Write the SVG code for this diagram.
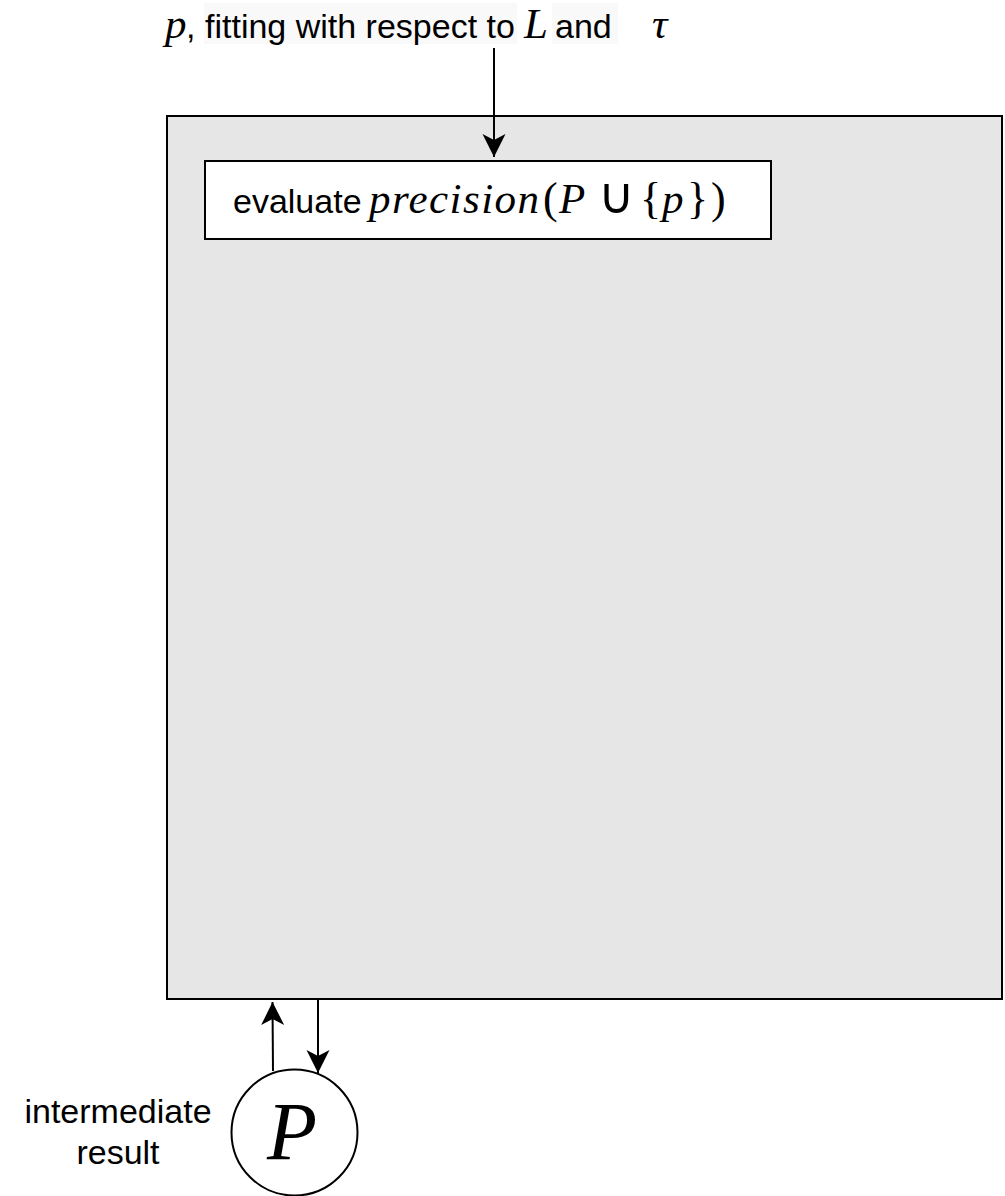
<svg xmlns="http://www.w3.org/2000/svg" width="1005" height="1196" viewBox="0 0 1005 1196">
  <style>
    .sans { font-family: "Liberation Sans", Arial, sans-serif; font-size: 34px; fill: #000; }
    .math { font-family: "Liberation Serif", "Times New Roman", serif; font-style: italic; font-size: 43px; fill: #000; }
    .up { font-family: "Liberation Serif", "Times New Roman", serif; font-style: normal; font-size: 44px; fill: #000; }
    .op { font-family: "DejaVu Sans", sans-serif; font-weight: 200; font-size: 50px; fill: #000; }
    .edge { fill: none; stroke: #000; stroke-width: 2; }
  </style>
  <defs>
    <marker id="arrow" markerUnits="userSpaceOnUse" markerWidth="26" markerHeight="26" viewBox="-24 -13 26 26" refX="0" refY="0" orient="auto">
      <path d="M0,0 L-23,-11.5 L-17,0 L-23,11.5 Z" fill="#000"/>
    </marker>
  </defs>

  <!-- outer process container -->
  <g id="container">
    <rect x="167" y="116" width="835" height="883" fill="#e6e6e6" stroke="#000" stroke-width="2"/>
  </g>

  <!-- evaluation step -->
  <g id="evaluate">
    <rect x="205" y="161" width="566" height="78" fill="#fff" stroke="#000" stroke-width="2"/>
    <text class="sans" x="233" y="213">evaluate</text>
    <text class="math" x="369" y="213" textLength="170" lengthAdjust="spacing">precision</text>
    <text class="up" x="543" y="213">(</text>
    <text class="math" x="559" y="213">P</text>
    <text class="op" x="598" y="213">∪</text>
    <text class="up" x="640" y="213">{</text>
    <text class="math" x="662" y="213">p</text>
    <text class="up" x="687" y="213">}</text>
    <text class="up" x="711" y="213">)</text>
  </g>

  <!-- incoming candidate label -->
  <g id="input-label">
    <rect x="204" y="3" width="313" height="41" fill="#f9f9f9"/>
    <rect x="552" y="3" width="66" height="41" fill="#f9f9f9"/>
    <text class="math" x="165" y="38">p</text>
    <text class="sans" x="186" y="38">,</text>
    <text class="sans" x="205" y="38">fitting with respect to</text>
    <text class="math" x="524" y="38">L</text>
    <text class="sans" x="555" y="38">and</text>
    <text class="math" x="652" y="38">τ</text>
  </g>

  <!-- intermediate result node -->
  <g id="result">
    <circle cx="294.5" cy="1132.5" r="63" fill="#fff" stroke="#000" stroke-width="2"/>
    <text class="math" x="292" y="1159" text-anchor="middle" style="font-size:82px">P</text>
    <text class="sans" x="118" y="1123" text-anchor="middle">intermediate</text>
    <text class="sans" x="118" y="1164" text-anchor="middle">result</text>
  </g>

  <!-- connectors -->
  <g id="connectors">
    <line class="edge" x1="494" y1="48" x2="494" y2="157" marker-end="url(#arrow)"/>
    <line class="edge" x1="273" y1="1071" x2="272.5" y2="1002" marker-end="url(#arrow)"/>
    <line class="edge" x1="318" y1="1000" x2="318" y2="1073" marker-end="url(#arrow)"/>
  </g>
</svg>
